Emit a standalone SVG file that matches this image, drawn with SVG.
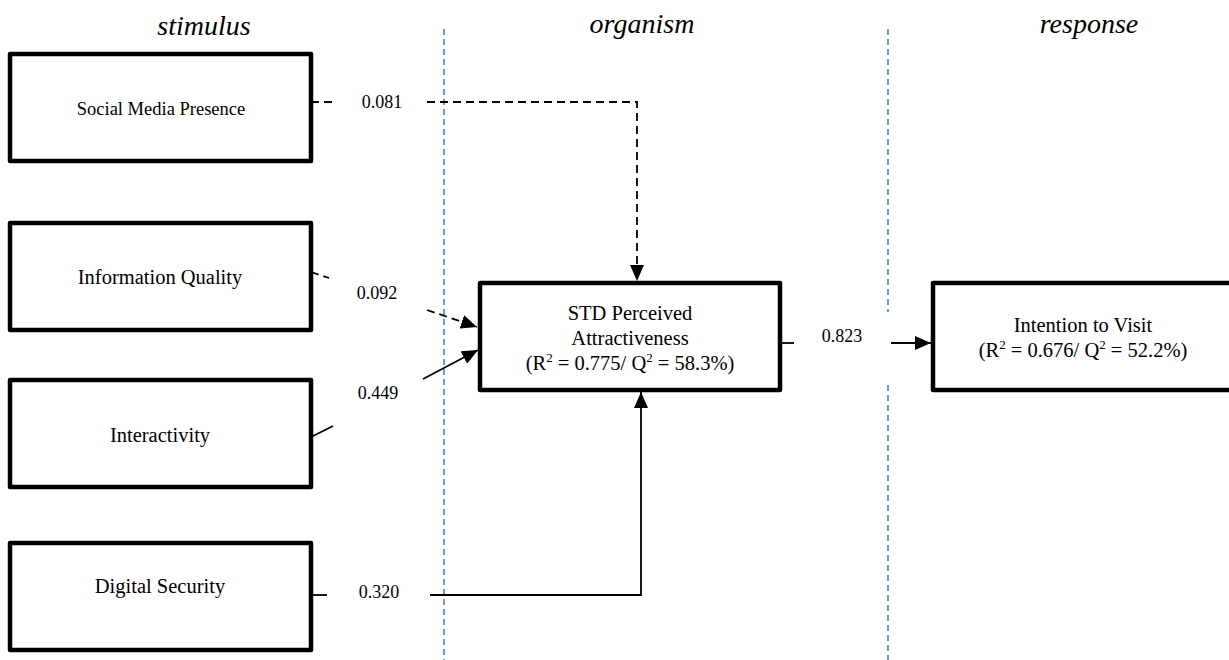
<svg xmlns="http://www.w3.org/2000/svg" width="1229" height="660" viewBox="0 0 1229 660">
  <style>
    .box { fill: #ffffff; stroke: #000000; stroke-width: 4.5; stroke-linejoin: round; }
    .lbl { font-family: "Liberation Serif", "Times New Roman", serif; fill: #000000; text-anchor: middle; }
    .title { font-family: "Liberation Serif", "Times New Roman", serif; font-style: italic; font-size: 28px; fill: #000000; text-anchor: middle; }
    .coef { font-family: "Liberation Serif", "Times New Roman", serif; font-size: 18px; fill: #000000; text-anchor: middle; }
    .sep { stroke: #4f81bd; stroke-width: 1.6; stroke-dasharray: 6 4; fill: none; }
    .solid { stroke: #000000; stroke-width: 1.8; fill: none; }
    .dash { stroke: #000000; stroke-width: 1.8; stroke-dasharray: 8 5; fill: none; }
  </style>
  <defs>
    <marker id="arrow" viewBox="0 0 16 14" refX="16" refY="7" markerWidth="16" markerHeight="14" markerUnits="userSpaceOnUse" orient="auto">
      <path d="M0,0 L16,7 L0,14 Z" fill="#000000"/>
    </marker>
  </defs>

  <!-- column headings -->
  <g id="headings">
    <text class="title" x="204" y="35">stimulus</text>
    <text class="title" x="642" y="33">organism</text>
    <text class="title" x="1089" y="33">response</text>
  </g>

  <!-- column separators -->
  <g id="separators">
    <line class="sep" x1="444" y1="29" x2="444" y2="660"/>
    <line class="sep" x1="888" y1="29" x2="888" y2="312"/>
    <line class="sep" x1="888" y1="385" x2="888" y2="660"/>
  </g>

  <!-- paths with coefficients -->
  <g id="connectors">
    <path class="dash" d="M311,102 H337"/>
    <path class="dash" d="M427,102 H637 V281" marker-end="url(#arrow)"/>
    <text class="coef" x="382" y="108">0.081</text>

    <path class="dash" d="M311,272 L329,278"/>
    <path class="dash" d="M427,310 L477,327" marker-end="url(#arrow)"/>
    <text class="coef" x="377" y="299">0.092</text>

    <path class="solid" d="M311,437 L333,426"/>
    <path class="solid" d="M423,379 L478,350" marker-end="url(#arrow)"/>
    <text class="coef" x="378" y="399">0.449</text>

    <path class="solid" d="M311,595 H327"/>
    <path class="solid" d="M430,595 H641 V392" marker-end="url(#arrow)"/>
    <text class="coef" x="379" y="598">0.320</text>

    <path class="solid" d="M780,343 H794"/>
    <path class="solid" d="M891,343 H931" marker-end="url(#arrow)"/>
    <text class="coef" x="842" y="342">0.823</text>
  </g>

  <g id="social-media-presence">
    <rect class="box" x="10" y="54" width="301" height="107"/>
    <text class="lbl" x="161" y="115" font-size="18.5">Social Media Presence</text>
  </g>

  <g id="information-quality">
    <rect class="box" x="10" y="223" width="301" height="107"/>
    <text class="lbl" x="160" y="284" font-size="20.5">Information Quality</text>
  </g>

  <g id="interactivity">
    <rect class="box" x="10" y="380" width="301" height="107"/>
    <text class="lbl" x="160" y="442" font-size="20.5">Interactivity</text>
  </g>

  <g id="digital-security">
    <rect class="box" x="10" y="543" width="301" height="107"/>
    <text class="lbl" x="160" y="593" font-size="20.5">Digital Security</text>
  </g>

  <g id="perceived-attractiveness">
    <rect class="box" x="480" y="283" width="300" height="107"/>
    <text class="lbl" x="630" y="320" font-size="20.5">STD Perceived</text>
    <text class="lbl" x="630" y="345" font-size="20.5">Attractiveness</text>
    <text class="lbl" x="630" y="370" font-size="20.5">(R<tspan font-size="13" dy="-8">2</tspan><tspan dy="8"> = 0.775/ Q</tspan><tspan font-size="13" dy="-8">2</tspan><tspan dy="8"> = 58.3%)</tspan></text>
  </g>

  <g id="intention-to-visit">
    <rect class="box" x="933" y="283" width="300" height="107"/>
    <text class="lbl" x="1083" y="332" font-size="20.5">Intention to Visit</text>
    <text class="lbl" x="1083" y="357" font-size="20.5">(R<tspan font-size="13" dy="-8">2</tspan><tspan dy="8"> = 0.676/ Q</tspan><tspan font-size="13" dy="-8">2</tspan><tspan dy="8"> = 52.2%)</tspan></text>
  </g>
</svg>
